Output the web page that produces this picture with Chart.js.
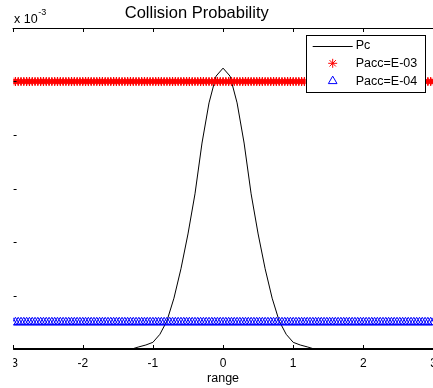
<!DOCTYPE html>
<html>
<head>
<meta charset="utf-8">
<title>Collision Probability</title>
<script src="https://cdn.jsdelivr.net/npm/chart.js@4.4.1/dist/chart.umd.min.js"></script>
<style>
  html, body { margin: 0; padding: 0; background: #fff; }
  #frame { position: relative; width: 433px; height: 388px; overflow: hidden; }
  #holder { position: absolute; left: -40px; top: 0; }
</style>
</head>
<body>
<div id="frame"><div id="holder"><canvas id="collisionChart" width="530" height="388"></canvas></div></div>
<script>
// valeurs, axe y en unités de 1e-3
const rangeValues = [-3, -1.4, -1.3, -1.2, -1.1, -1.0, -0.9, -0.8, -0.7, -0.6, -0.5, -0.4, -0.3, -0.2, -0.1,
                     0, 0.1, 0.2, 0.3, 0.4, 0.5, 0.6, 0.7, 0.8, 0.9, 1.0, 1.1, 1.2, 1.3, 1.4, 3];
const pcValues = [0, 0, 0, 0.008, 0.015, 0.025, 0.055, 0.105, 0.19, 0.30, 0.43, 0.58, 0.77, 0.92, 1.02,
                  1.05, 1.02, 0.92, 0.77, 0.58, 0.43, 0.30, 0.19, 0.105, 0.055, 0.025, 0.015, 0.008, 0, 0, 0];
const xTicks = [-3, -2, -1, 0, 1, 2, 3];
const yTicks = [0, 0.2, 0.4, 0.6, 0.8, 1.0, 1.2];
const paccE3 = 1.0;   // 1e-3
const paccE4 = 0.1;   // 1e-4
const markerStep = 0.04;
const fontFamily = '"Liberation Sans", Arial, sans-serif';

// positions des marqueurs le long des seuils
const markerRange = [];
for (let k = 0; k <= Math.round(6 / markerStep); k++) {
    markerRange.push(+(-3 + k * markerStep).toFixed(3));
}

// cadre façon Matlab : ligne du haut, graduations intérieures, légende, facteur x 10^-3
const matlabFrame = {
    id: 'matlabFrame',
    afterDraw(chart) {
        const ctx = chart.ctx;
        const a = chart.chartArea;
        const x = chart.scales.x;
        const y = chart.scales.y;
        ctx.save();

        // la figure d'origine est rognée à gauche
        ctx.fillStyle = '#fff';
        ctx.fillRect(0, 0, a.left + 0.6, chart.height);

        ctx.strokeStyle = '#000';
        ctx.lineWidth = 1;
        ctx.beginPath();
        ctx.moveTo(a.left, a.top + 0.5);
        ctx.lineTo(a.right, a.top + 0.5);
        x.ticks.forEach(t => {
            const px = Math.round(x.getPixelForValue(t.value)) + 0.5;
            ctx.moveTo(px, a.top);
            ctx.lineTo(px, a.top + 4);
            ctx.moveTo(px, a.bottom);
            ctx.lineTo(px, a.bottom - 4);
        });
        y.ticks.forEach(t => {
            const py = Math.round(y.getPixelForValue(t.value)) + 0.5;
            ctx.moveTo(a.left + 1, py);
            ctx.lineTo(a.left + 4, py);
        });
        ctx.stroke();

        // facteur d'échelle
        ctx.fillStyle = '#000';
        ctx.textAlign = 'left';
        ctx.textBaseline = 'alphabetic';
        ctx.font = '12.5px ' + fontFamily;
        ctx.fillText('x 10', a.left + 1.5, 22.5);
        const w = ctx.measureText('x 10').width;
        ctx.font = '9px ' + fontFamily;
        ctx.fillText('-3', a.left + 2 + w, 15);

        // légende
        const boxW = 119.3, boxH = 57;
        const bx = a.right - 8.5 - boxW;
        const by = a.top + 6.5;
        ctx.fillStyle = '#fff';
        ctx.fillRect(bx, by, boxW, boxH);
        ctx.strokeRect(Math.round(bx) + 0.5, Math.round(by) + 0.5, Math.round(boxW), Math.round(boxH));
        chart.data.datasets.forEach((ds, i) => {
            const ry = by + 11 + i * 17.8;
            const cx = bx + 27;
            ctx.strokeStyle = ds.borderColor;
            ctx.lineWidth = 1;
            if (ds.showLine !== false && ds.pointRadius === 0) {
                ctx.beginPath();
                ctx.moveTo(bx + 7, Math.round(ry) + 0.5);
                ctx.lineTo(bx + 47, Math.round(ry) + 0.5);
                ctx.stroke();
            } else {
                ctx.fillStyle = 'rgba(0,0,0,0)';
                Chart.helpers.drawPoint(ctx, {
                    pointStyle: ds.pointStyle, radius: ds.pointRadius, borderWidth: ds.borderWidth, rotation: 0
                }, cx, ry);
            }
            ctx.fillStyle = '#000';
            ctx.font = '12.5px ' + fontFamily;
            ctx.textBaseline = 'middle';
            ctx.fillText(ds.label, bx + 50, ry);
        });
        ctx.restore();
    }
};

const ctx = document.getElementById('collisionChart').getContext('2d');
new Chart(ctx, {
    type: 'scatter',
    data: {
        datasets: [{
            label: 'Pc',
            data: rangeValues.map((v, i) => ({ x: v, y: pcValues[i] })),
            showLine: true,
            borderColor: '#000',
            borderWidth: 1,
            pointRadius: 0,
            tension: 0,
            order: 2
        }, {
            label: 'Pacc=E-03',
            data: markerRange.map(v => ({ x: v, y: paccE3 })),
            showLine: false,
            pointStyle: 'star',
            pointRadius: 4.5,
            borderColor: '#ff0000',
            backgroundColor: 'rgba(0,0,0,0)',
            borderWidth: 1.2,
            order: 1
        }, {
            label: 'Pacc=E-04',
            data: markerRange.map(v => ({ x: v, y: paccE4 })),
            showLine: false,
            pointStyle: 'triangle',
            pointRadius: 5,
            borderColor: '#0000ff',
            backgroundColor: 'rgba(0,0,0,0)',
            borderWidth: 1,
            order: 1
        }]
    },
    options: {
        responsive: false,
        animation: false,
        layout: { padding: { left: 0, right: 56.5, top: 0, bottom: 0 } },
        plugins: {
            legend: { display: false },
            tooltip: { enabled: false },
            title: {
                display: true,
                text: 'Collision Probability',
                color: '#000',
                font: { family: fontFamily, size: 16.5, weight: 'normal' },
                padding: { top: 3.5, bottom: 4.7 }
            }
        },
        scales: {
            x: {
                type: 'linear',
                min: -3,
                max: 3,
                afterBuildTicks: s => { s.ticks = xTicks.map(v => ({ value: v })); },
                afterFit: s => { s.height = 39; },
                ticks: {
                    color: '#000',
                    font: { family: fontFamily, size: 12 },
                    padding: 7,
                    maxRotation: 0,
                    autoSkip: false
                },
                grid: { display: false, drawTicks: false },
                border: { display: true, color: '#000', width: 2 },
                title: {
                    display: true,
                    text: 'range',
                    color: '#000',
                    font: { family: fontFamily, size: 12.5 },
                    padding: { top: 0, bottom: 2 }
                }
            },
            y: {
                type: 'linear',
                min: 0,
                max: 1.2,
                afterBuildTicks: s => { s.ticks = yTicks.map(v => ({ value: v })); },
                afterFit: s => { s.width = 52.6; },
                ticks: { display: false },
                grid: { display: false },
                border: { display: false }
            }
        }
    },
    plugins: [matlabFrame]
});
</script>
</body>
</html>
